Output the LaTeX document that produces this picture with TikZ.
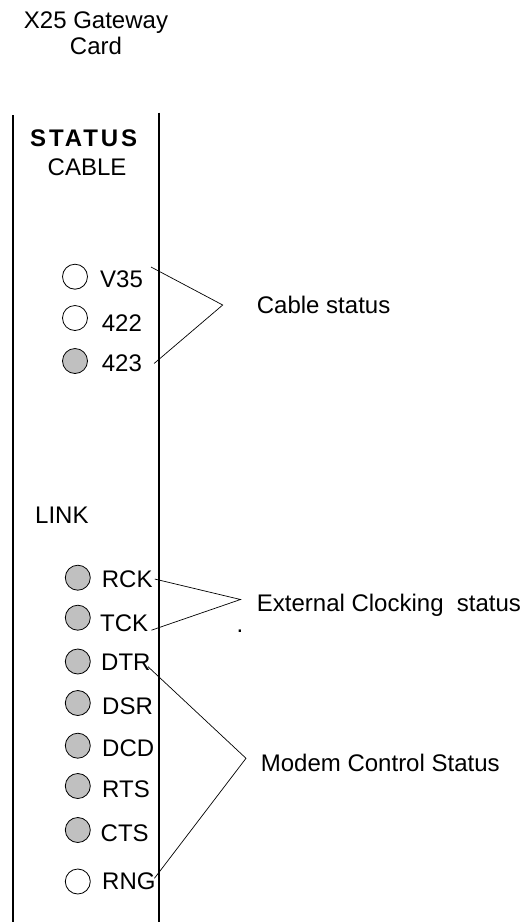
\documentclass[tikz,border=0pt]{standalone}
\usepackage{fontspec}
\setmainfont{Liberation Sans}
\begin{document}
\begin{tikzpicture}[x=1pt,y=-1pt,
  txt/.style={inner sep=0pt,font=\fontsize{24}{28}\selectfont},
  lbl/.style={txt,anchor=base west},
  ledoff/.style={circle,draw=black,line width=0.8pt,fill=white,minimum size=25pt,inner sep=0pt},
  ledon/.style={ledoff,fill=ledgray},
  rail/.style={line width=2.7pt,black},
  conn/.style={line width=0.7pt,black}]
\definecolor{ledgray}{HTML}{C0C0C0}
\useasboundingbox (0,0) rectangle (529,922);
% title
\node[txt,anchor=base] (t1) at (96,28.3) {X25 Gateway};
\node[txt,anchor=base] (t2) at (96,54) {Card};
% rails
\coordinate (lt) at (13,115); \coordinate (lb) at (13,922);
\coordinate (rt) at (159,112.7); \coordinate (rb) at (159,922);
\draw[rail] (lt) -- (lb);
\draw[rail] (rt) -- (rb);
% headings
\node[lbl] (status) at (30,146) {\bfseries\addfontfeature{LetterSpace=12}STATUS};
\node[lbl] (cable) at (47.5,175) {CABLE};
\node[lbl] (link) at (35,523) {LINK};
% cable LEDs
\node[ledoff] (cV35) at (75,276.7) {};
\node[ledoff] (c422) at (75,318) {};
\node[ledon]  (c423) at (75,361) {};
\node[lbl] (lV35) at (100,287) {V35};
\node[lbl] (l422) at (101.7,331.5) {422};
\node[lbl] (l423) at (101.7,371.7) {423};
% link LEDs
\node[ledon] (cRCK) at (77.8,577.7) {};
\node[ledon] (cTCK) at (77.8,617.7) {};
\node[ledon] (cDTR) at (77.8,661.5) {};
\node[ledon] (cDSR) at (77.8,703) {};
\node[ledon] (cDCD) at (77.8,745.7) {};
\node[ledon] (cRTS) at (77.8,786) {};
\node[ledon] (cCTS) at (77.8,830) {};
\node[ledoff] (cRNG) at (77.8,881.5) {};
\node[lbl] (lRCK) at (101.7,587.3) {RCK};
\node[lbl] (lTCK) at (100,631.7) {TCK};
\node[lbl] (lDTR) at (101,670.7) {DTR};
\node[lbl] (lDSR) at (102,714) {DSR};
\node[lbl] (lDCD) at (102,756.5) {DCD};
\node[lbl] (lRTS) at (102,797.7) {RTS};
\node[lbl] (lCTS) at (100.5,841.7) {CTS};
\node[lbl] (lRNG) at (102,889.3) {RNG};
% group labels
\node[lbl] (gCable) at (256.7,313.3) {Cable status};
\node[lbl] (gClock) at (256.7,611) {External Clocking\ \ status};
\node[lbl] (gModem) at (260.7,771.7) {Modem Control Status};
\node[lbl] (stray) at (236.3,632.7) {.};
% connectors
\coordinate (aCable) at (222.7,305);
\coordinate (aClock) at (240.5,599.5);
\coordinate (aModem) at (246,758.3);
\draw[conn] ([shift={(8,-3)}]lV35.north east) -- (aCable) -- ([shift={(12,0)}]l423.east);
\draw[conn] ([shift={(2,0)}]lRCK.east) -- (aClock) -- ([shift={(3,-1.5)}]lTCK.base east);
\draw[conn] ([shift={(-2.7,-4)}]lDTR.base east) -- (aModem) -- ([shift={(-1.3,-11)}]lRNG.base east);
\end{tikzpicture}
\end{document}
